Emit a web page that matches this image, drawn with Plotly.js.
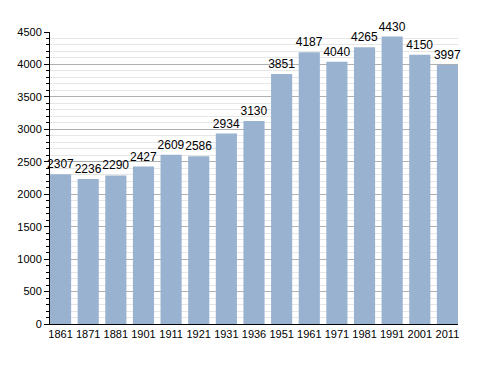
<!DOCTYPE html>
<html><head><meta charset="utf-8">
<script src="https://cdn.plot.ly/plotly-3.0.1.min.js"></script>
<style>html,body{margin:0;padding:0;background:#fff}#c{width:488px;height:373px}</style>
</head><body><div id="c"></div>
<script>
const years = ["1861","1871","1881","1901","1911","1921","1931","1936","1951","1961","1971","1981","1991","2001","2011"];
const population = [2307,2236,2290,2427,2609,2586,2934,3130,3851,4187,4040,4265,4430,4150,3997];

const gap = 0.235;
Plotly.newPlot('c', [{
  type: 'bar',
  x: years,
  y: population,
  text: population.map(String),
  textposition: 'outside',
  constraintext: 'none',
  textfont: {family: 'Liberation Sans, Arial, sans-serif', size: 12, color: '#000'},
  marker: {color: '#98b2cf'},
  cliponaxis: false,
  hoverinfo: 'none'
}], {
  width: 488, height: 373,
  margin: {l: 50, r: 30, t: 32, b: 49},
  paper_bgcolor: '#fff', plot_bgcolor: '#fff',
  bargap: gap,
  showlegend: false,
  font: {family: 'Liberation Sans, Arial, sans-serif', size: 11, color: '#000'},
  xaxis: {
    type: 'category',
    range: [-0.5 + gap / 2, years.length - 0.5 - gap / 2],
    showline: true, linecolor: '#000', linewidth: 1,
    ticks: '', showgrid: false,
    tickfont: {size: 11}
  },
  yaxis: {
    range: [0, 4500],
    dtick: 500, tick0: 0,
    showline: true, linecolor: '#000', linewidth: 1,
    ticks: 'outside', ticklen: 5, tickcolor: '#000',
    showgrid: true, gridcolor: '#b0b0b0', gridwidth: 1,
    zeroline: false,
    minor: {dtick: 100, showgrid: true, gridcolor: '#e6e6e6', ticks: 'outside', ticklen: 3, tickcolor: '#000'},
    tickfont: {size: 11}
  }
}, {staticPlot: true});
</script></body></html>
